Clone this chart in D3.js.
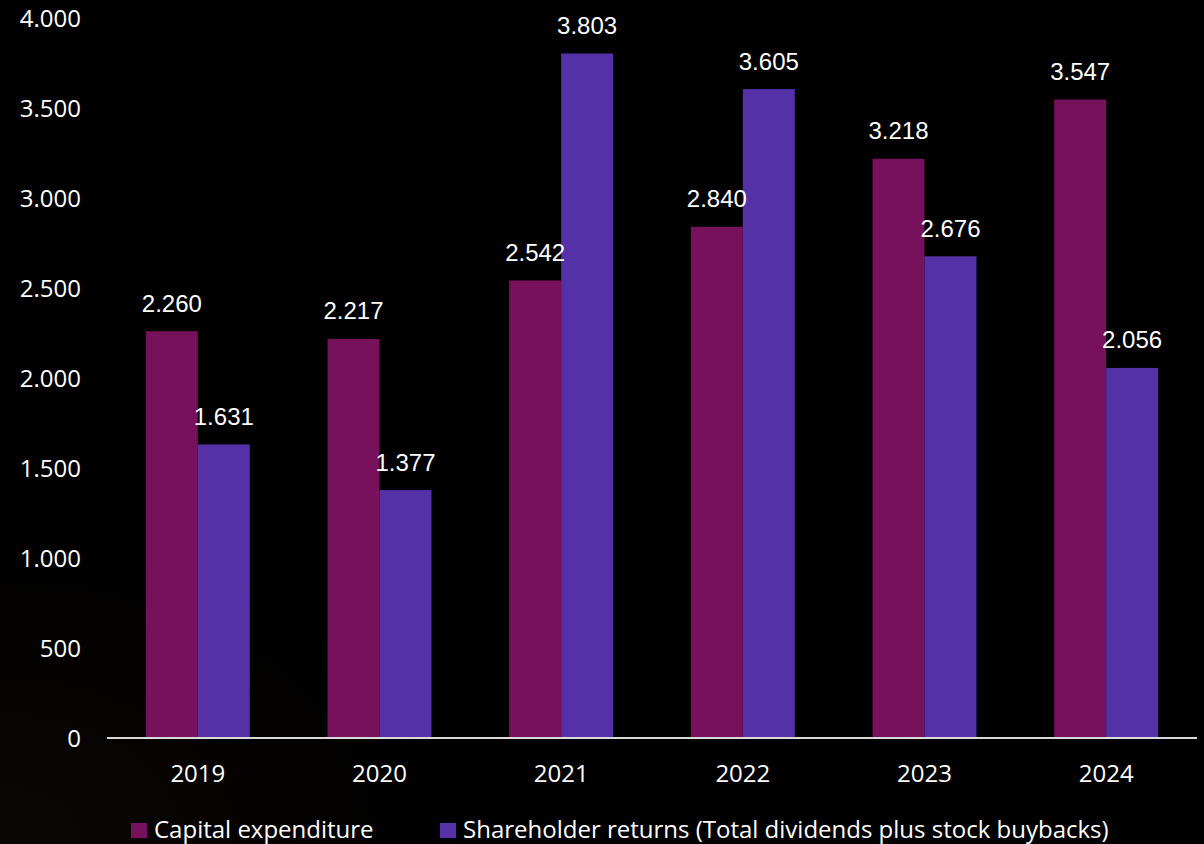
<!DOCTYPE html>
<html>
<head>
<meta charset="utf-8">
<script src="https://cdn.jsdelivr.net/npm/d3@7"></script>
<style>
  html, body { margin: 0; padding: 0; background: #000; }
  svg { display: block; }
</style>
</head>
<body>
<svg id="chart" width="1204" height="844"></svg>
<script>
// Chart data
const years = ["2019", "2020", "2021", "2022", "2023", "2024"];
const capex = [2260, 2217, 2542, 2840, 3218, 3547];
const shareholderReturns = [1631, 1377, 3803, 3605, 2676, 2056];
const yTicks = [0, 500, 1000, 1500, 2000, 2500, 3000, 3500, 4000];
const seriesNames = ["Capital expenditure", "Shareholder returns (Total dividends plus stock buybacks)"];
const seriesColors = ["#77115b", "#5531a7"];

const W = 1204, H = 844;
const margin = { left: 107, right: 7, top: 18, bottom: 106 };
const axisFont = "'Open Sans', 'Noto Sans', sans-serif";
const labelFont = "'Liberation Sans', Arial, sans-serif";

// Thousands separator is a dot
const fmt = v => d3.format(",")(v).replace(/,/g, ".");

const svg = d3.select("#chart");

// Background with a faint warm glow in the lower-left corner
const defs = svg.append("defs");
const glow = defs.append("radialGradient")
  .attr("id", "glow").attr("cx", 0).attr("cy", 1).attr("r", 0.4)
  .attr("gradientUnits", "objectBoundingBox");
glow.append("stop").attr("offset", 0).attr("stop-color", "#1a100a");
glow.append("stop").attr("offset", 1).attr("stop-color", "#000000");
svg.append("rect").attr("width", W).attr("height", H).attr("fill", "#000");
svg.append("rect").attr("width", W).attr("height", H).attr("fill", "url(#glow)").attr("opacity", 0.4);

const x0 = d3.scaleBand().domain(years).range([margin.left, W - margin.right]).paddingInner(0.428).paddingOuter(0.214);
const x1 = d3.scaleBand().domain([0, 1]).range([0, x0.bandwidth()]);
const y = d3.scaleLinear().domain([0, 4000]).range([H - margin.bottom, margin.top]);

const rows = years.map((yr, i) => ({ year: yr, values: [capex[i], shareholderReturns[i]] }));

// Y axis labels
const yAxis = svg.append("g").attr("transform", `translate(${81},0)`)
  .call(d3.axisLeft(y).tickValues(yTicks).tickFormat(fmt).tickSize(0).tickPadding(0));
yAxis.select(".domain").remove();
yAxis.selectAll("text").attr("fill", "#ffffff").style("font-family", axisFont).style("font-size", "24px").attr("dy", "0.35em");

// Bars
const groups = svg.append("g").selectAll("g").data(rows).join("g")
  .attr("transform", d => `translate(${x0(d.year)},0)`);
groups.selectAll("rect").data(d => d.values.map((v, k) => ({ v, k }))).join("rect")
  .attr("x", d => x1(d.k))
  .attr("y", d => y(d.v))
  .attr("width", x1.bandwidth())
  .attr("height", d => y(0) - y(d.v))
  .attr("fill", d => seriesColors[d.k]);

// Value labels
groups.selectAll("text").data(d => d.values.map((v, k) => ({ v, k }))).join("text")
  .attr("x", d => x1(d.k) + x1.bandwidth() / 2)
  .attr("y", d => y(d.v) - 19.5)
  .attr("text-anchor", "middle")
  .attr("fill", "#ffffff")
  .style("font-family", labelFont)
  .style("font-size", "24px")
  .text(d => fmt(d.v));

// X axis baseline and year labels
const xAxis = svg.append("g").attr("transform", `translate(0,${y(0)})`)
  .call(d3.axisBottom(x0).tickSize(0).tickPadding(0));
xAxis.select(".domain").attr("stroke", "#d9d9d9").attr("stroke-width", 2)
  .attr("d", `M${margin.left},0H${W - margin.right}`);
xAxis.selectAll("text").attr("fill", "#ffffff").style("font-family", axisFont).style("font-size", "24px")
  .attr("y", 44).attr("dy", null);

// Legend
const legendX = [131, 440];
const legend = svg.append("g");
seriesNames.forEach((name, k) => {
  legend.append("rect").attr("x", legendX[k]).attr("y", 823).attr("width", 16).attr("height", 15).attr("fill", seriesColors[k]);
  legend.append("text").attr("x", legendX[k] + 23).attr("y", 837.5)
    .attr("fill", "#ffffff").style("font-family", axisFont).style("font-size", "24px").text(name);
});
</script>
</body>
</html>
